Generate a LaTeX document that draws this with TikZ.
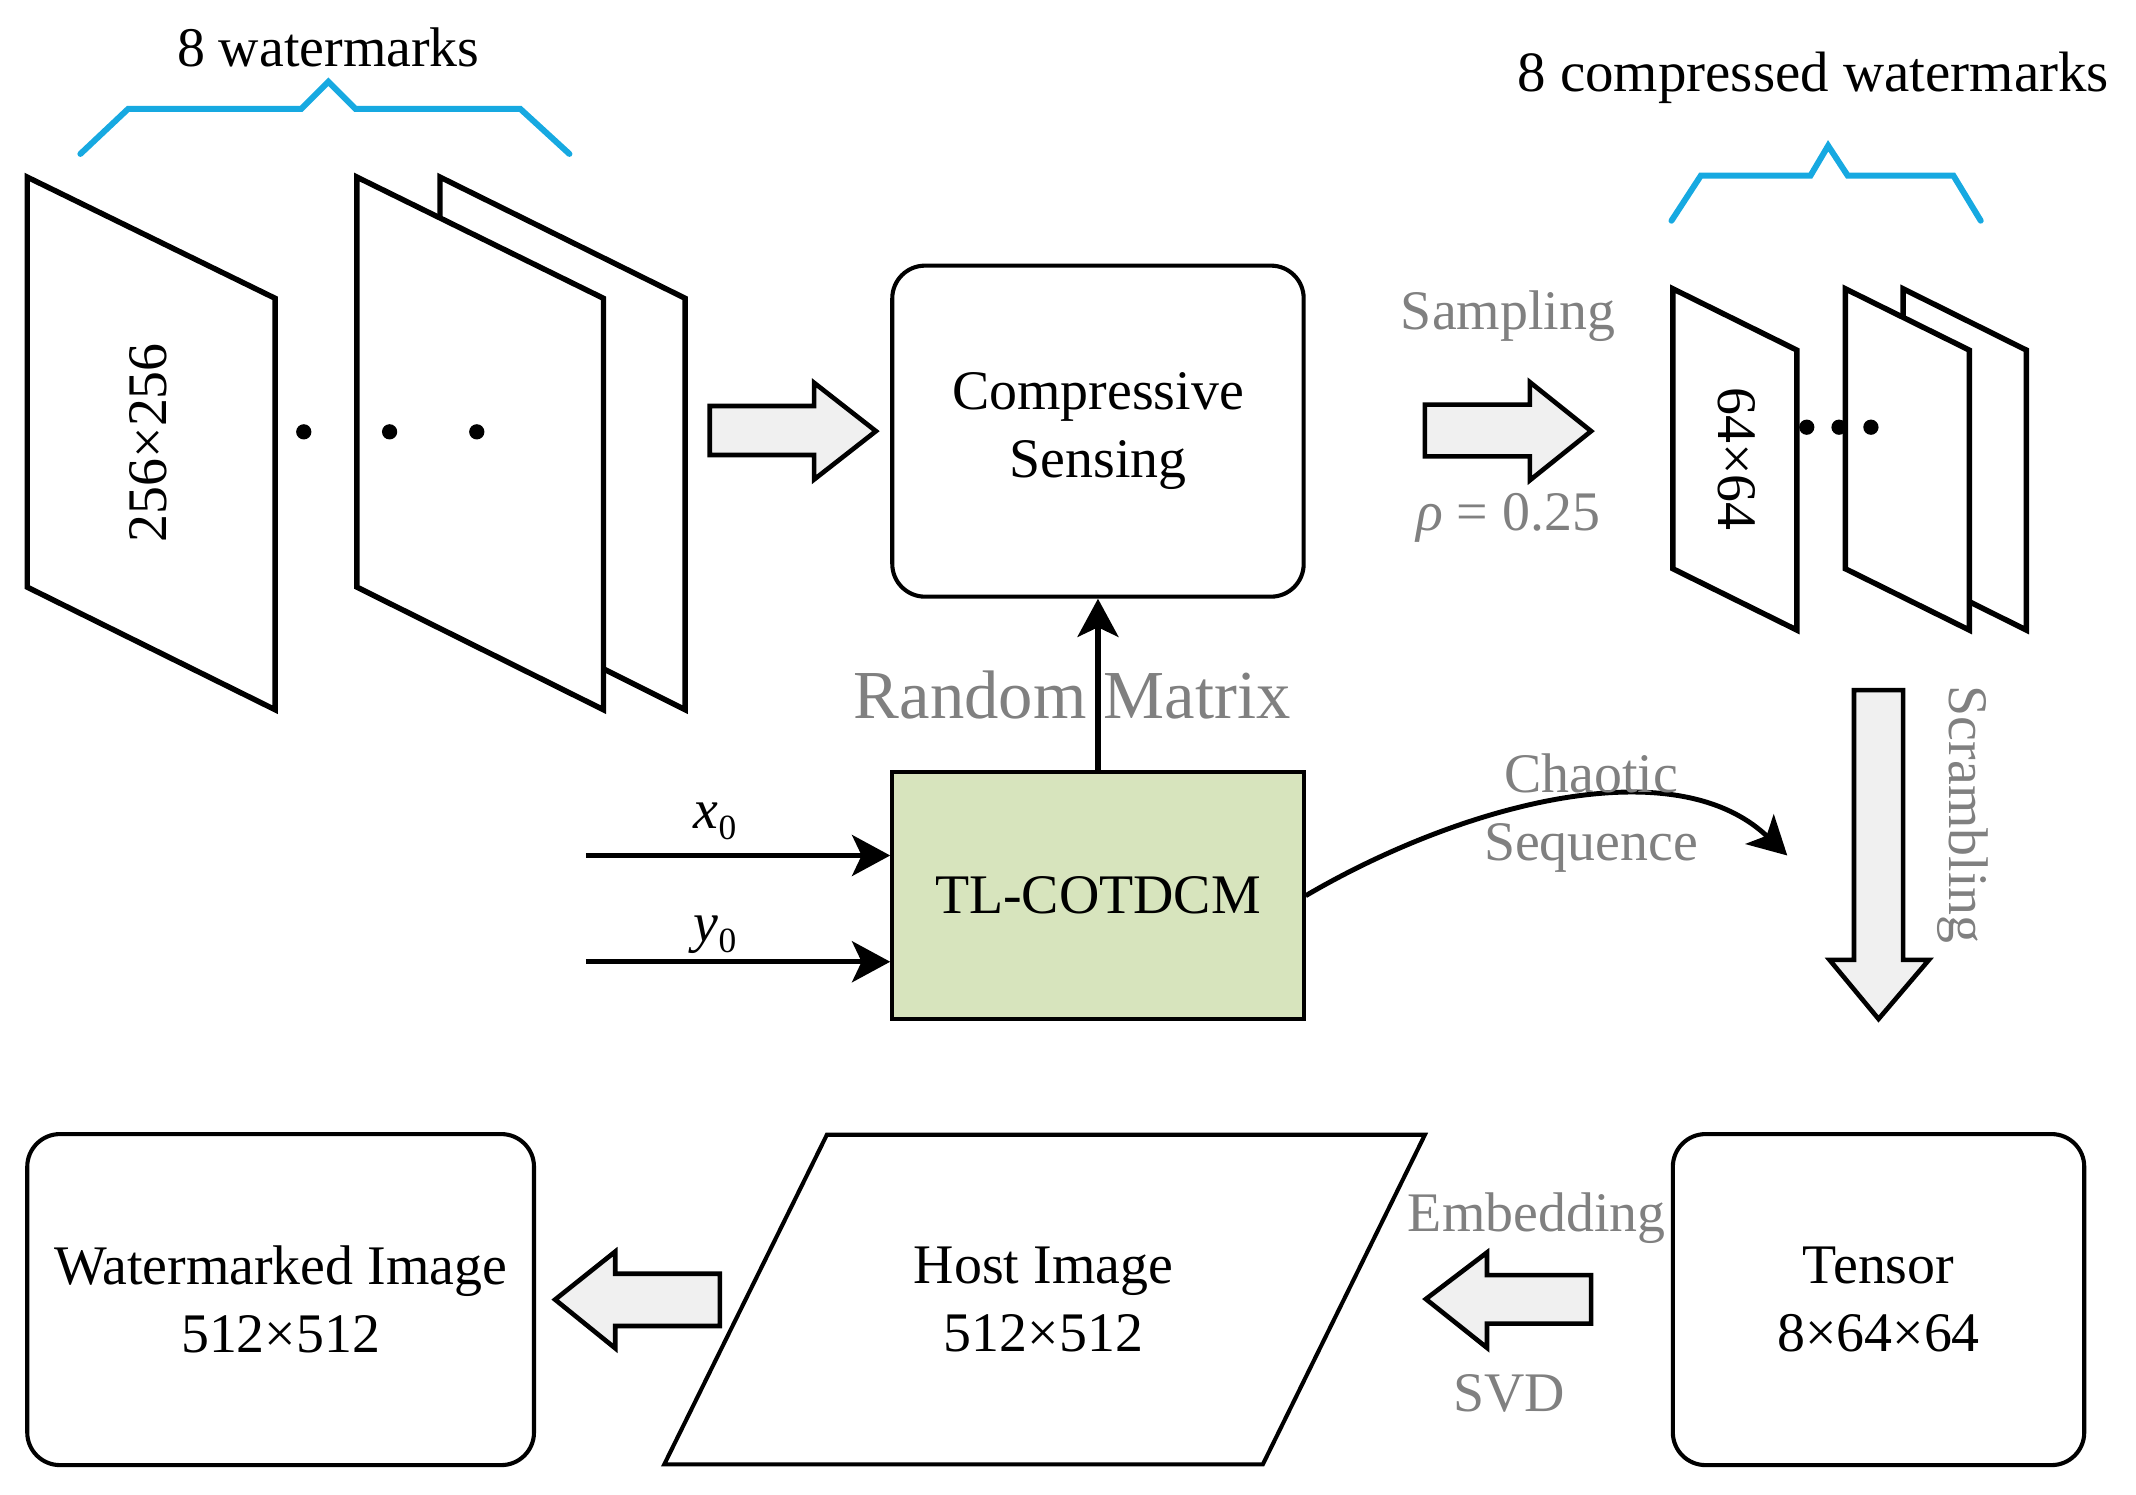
\documentclass[tikz,border=0pt]{standalone}
\usepackage{fontspec}
\setmainfont{Liberation Serif}
\usetikzlibrary{arrows.meta}
\definecolor{bracecol}{RGB}{23,169,225}
\definecolor{tlgreen}{RGB}{215,228,189}
\definecolor{lbl}{RGB}{128,128,128}
\definecolor{arrfill}{RGB}{240,240,240}
\begin{document}
\begin{tikzpicture}[x=0.5pt,y=-0.5pt,
  every node/.style={font=\fontsize{20.5}{25}\selectfont, inner sep=0pt},
  box/.style={draw, line width=1.5pt, rounded corners=12pt, align=center, minimum width=151pt, minimum height=121.5pt},
  slab/.style={draw, line width=2pt, fill=white, line join=miter},
  blockarrow/.style={draw, line width=1.7pt, fill=arrfill, line join=miter},
  brace/.style={draw=bracecol, line width=2.2pt, line cap=round, line join=miter},
  graylbl/.style={text=lbl},
  conn/.style={line width=2pt, -{Stealth[length=14pt, width=15pt, inset=3.5pt]}},
  dotmark/.style={fill=black},
]
\useasboundingbox (0,0) rectangle (1568,1097);

% ---- top-left watermarks ----
\node (wmlabel) at (241,35) {8 watermarks};
\draw[brace] (59,113) -- (94,80) -- (221,80) -- (241,60) -- (261,80) -- (382,80) -- (418,113);
\draw[slab] (20,130) -- (202,219) -- (202,521) -- (20,431) -- cycle;
\node[rotate=90] (size1) at (109,325) {256×256};
\draw[slab] (323,130) -- (503,219) -- (503,521) -- (323,431) -- cycle;
\draw[slab] (262,130) -- (443,219) -- (443,521) -- (262,431) -- cycle;
\fill[dotmark] (223,317) circle[radius=2.8pt] (286,317) circle[radius=2.8pt] (350,317) circle[radius=2.8pt];

% arrow to CS
\draw[blockarrow] (521,298) -- (597.6,298) -- (597.6,281) -- (643,316.5) -- (597.6,352) -- (597.6,334) -- (521,334) -- cycle;

% ---- compressive sensing ----
\node[box] (cs) at (806,316.5) {Compressive\\Sensing};
\node[draw, line width=1.5pt, fill=tlgreen, minimum width=151pt, minimum height=90.5pt] (tl) at (806,657.5) {TL-COTDCM};
\node[graylbl, font=\fontsize{25.2}{28}\selectfont] (rm) at (787,510) {Random Matrix};
\draw[conn] (tl.north) -- (cs.south);

% inputs
\coordinate (x0s) at (430,628);
\coordinate (y0s) at (430,706);
\draw[conn] (x0s) -- (x0s -| tl.west);
\draw[conn] (y0s) -- (y0s -| tl.west);
\node (x0) at (525,603) {\itshape x\raisebox{-0.45ex}{\fontsize{13}{13}\selectfont\upshape 0}};
\node (y0) at (525,686) {\itshape y\raisebox{-0.45ex}{\fontsize{13}{13}\selectfont\upshape 0}};

% chaotic sequence
\coordinate (chend) at (1312,628);
\draw[line width=1.8pt, -{Stealth[length=14pt, width=15pt, inset=3.5pt]}] (tl.east) .. controls (1070,592) and (1228,548) .. (chend);
\node[graylbl, align=center] (chaos) at (1168,597) {Chaotic\\Sequence};

% ---- sampling ----
\node[graylbl] (samp) at (1107,232) {Sampling};
\node[graylbl] (rho) at (1107,380) {{\itshape ρ} = 0.25};
\draw[blockarrow] (1046,297) -- (1123,297) -- (1123,280.5) -- (1168,316.5) -- (1123,352.6) -- (1123,335) -- (1046,335) -- cycle;

% ---- compressed watermarks ----
\node[font=\fontsize{20.9}{25}\selectfont] (cwlabel) at (1331,57) {8 compressed watermarks};
\draw[brace] (1227,162) -- (1248.5,129) -- (1329,129) -- (1342,107) -- (1356.4,129) -- (1434,129) -- (1454,162);
\draw[slab] (1228,212) -- (1319,257) -- (1319,462.5) -- (1228,417.5) -- cycle;
\node[rotate=-90] (size2) at (1275,337) {64×64};
\draw[slab] (1397,212) -- (1487.5,257) -- (1487.5,462.5) -- (1397,417.5) -- cycle;
\draw[slab] (1354.6,212) -- (1445.6,257) -- (1445.6,462.5) -- (1354.6,417.5) -- cycle;
\fill[dotmark] (1326.3,313.6) circle[radius=2.8pt] (1350,313.6) circle[radius=2.8pt] (1373.4,313.6) circle[radius=2.8pt];

% ---- scrambling ----
\draw[blockarrow] (1361,506.6) -- (1397,506.6) -- (1397,704.6) -- (1416,704.6) -- (1379,748) -- (1343,704.6) -- (1361,704.6) -- cycle;
\node[graylbl, rotate=-90] (scr) at (1441,598) {Scrambling};

% ---- bottom row ----
\node[box] (tensor) at (1379,954) {Tensor\\8×64×64};
\node[graylbl] (emb) at (1128,894) {Embedding};
\node[graylbl] (svd) at (1108,1023) {SVD};
\draw[blockarrow] (1168,936) -- (1091.6,936) -- (1091.6,919.4) -- (1046.7,953.6) -- (1091.6,989.4) -- (1091.6,971.6) -- (1168,971.6) -- cycle;

\draw[line width=1.5pt, line join=miter] (607,833) -- (1046,833) -- (927,1075) -- (487.6,1075) -- cycle;
\node[align=center] (host) at (766,954) {Host Image\\512×512};

\draw[blockarrow] (528.4,935) -- (451.6,935) -- (451.6,918.8) -- (407.5,954) -- (451.6,989.7) -- (451.6,973.4) -- (528.4,973.4) -- cycle;

\node[box, minimum width=186pt] (wm) at (206,954) {Watermarked Image\\512×512};
\end{tikzpicture}
\end{document}
